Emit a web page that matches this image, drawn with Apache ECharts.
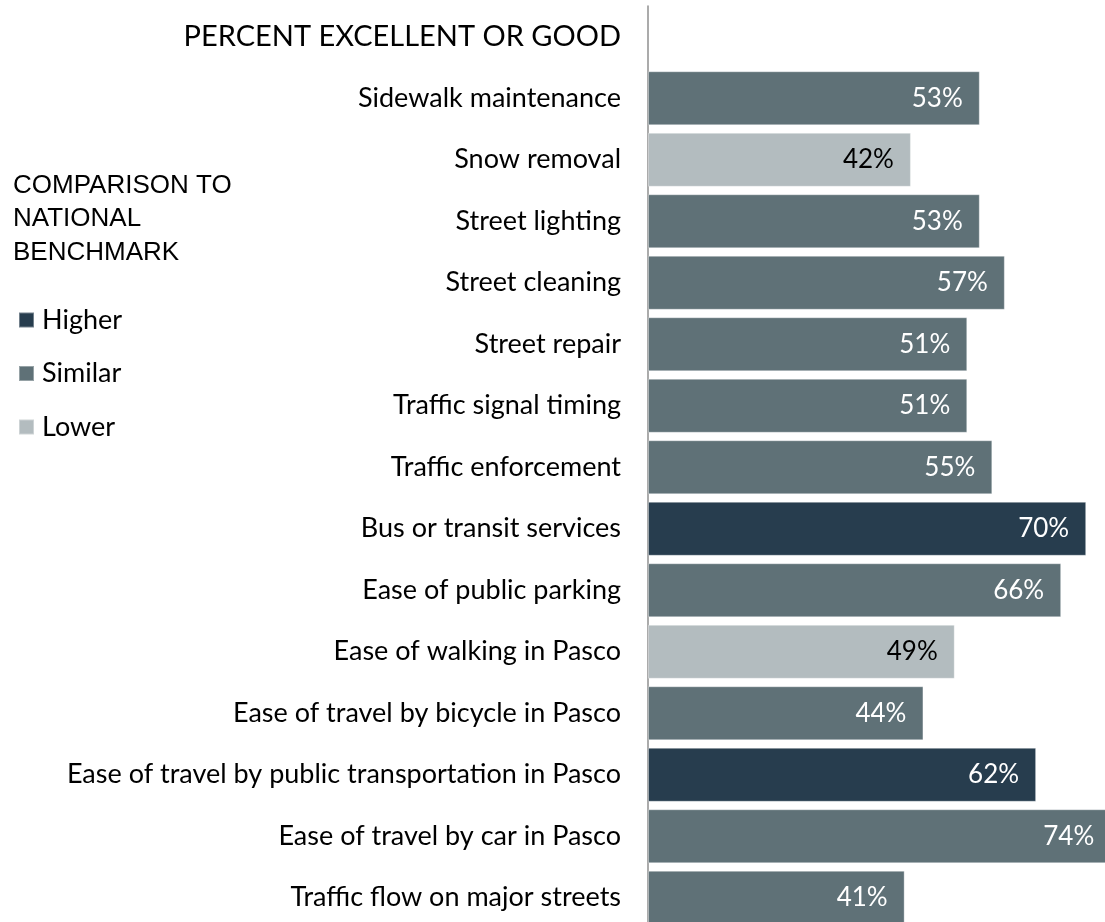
<!DOCTYPE html>
<html>
<head>
<meta charset="utf-8">
<script src="https://cdn.jsdelivr.net/npm/echarts@6/dist/echarts.min.js"></script>
<style>
  html, body { margin: 0; padding: 0; background: #fff; }
  #main { width: 1105px; height: 922px; }
</style>
</head>
<body>
<div id="main"></div>
<script>
// header row sits on the category axis as an empty band
const header = "PERCENT EXCELLENT OR GOOD";
const categories = [
  "Sidewalk maintenance",
  "Snow removal",
  "Street lighting",
  "Street cleaning",
  "Street repair",
  "Traffic signal timing",
  "Traffic enforcement",
  "Bus or transit services",
  "Ease of public parking",
  "Ease of walking in Pasco",
  "Ease of travel by bicycle in Pasco",
  "Ease of travel by public transportation in Pasco",
  "Ease of travel by car in Pasco",
  "Traffic flow on major streets"
];
const values = [53, 42, 53, 57, 51, 51, 55, 70, 66, 49, 44, 62, 74, 41];
const comparison = ["Similar", "Lower", "Similar", "Similar", "Similar", "Similar", "Similar",
  "Higher", "Similar", "Lower", "Similar", "Higher", "Similar", "Similar"];
const groups = ["Higher", "Similar", "Lower"];

const colors = { Higher: "#273d4e", Similar: "#5f7177", Lower: "#b3bcbf" };
const labelColors = { Higher: "#fff", Similar: "#fff", Lower: "#000" };
const FONT = "Lato";

// one series per comparison group, empty where the row belongs to another group
const series = groups.map(g => ({
  name: g,
  type: "bar",
  stack: "all",
  barWidth: 54,
  clip: false,
  data: ["-"].concat(values.map((v, i) => comparison[i] === g ? v : "-")),
  itemStyle: { color: colors[g], borderColor: "rgba(255,255,255,0.35)", borderWidth: 1 },
  label: {
    show: true,
    position: "insideRight",
    distance: 17,
    formatter: p => p.value + "%",
    color: labelColors[g],
    fontFamily: FONT,
    fontSize: 26
  }
}));

const option = {
  animation: false,
  title: {
    text: "COMPARISON TO\nNATIONAL\nBENCHMARK",
    left: 13,
    top: 169,
    padding: 0,
    textStyle: { fontFamily: "Liberation Sans", fontSize: 26, fontWeight: "normal", color: "#000", lineHeight: 33.5 }
  },
  legend: {
    data: groups,
    orient: "vertical",
    left: 18,
    top: 305,
    padding: 0,
    icon: "rect",
    itemWidth: 15,
    itemHeight: 15,
    itemGap: 23.5,
    textStyle: { fontFamily: FONT, fontSize: 27, color: "#000", lineHeight: 30, padding: [0, 0, 0, 3] }
  },
  grid: { left: 648, top: 6, width: 500.8, height: 922.5, outerBoundsMode: "none", containLabel: false },
  xAxis: { type: "value", min: 0, max: 80, show: false },
  yAxis: {
    type: "category",
    inverse: true,
    data: [header].concat(categories),
    axisLine: { show: true, lineStyle: { color: "#8f8f8f", width: 1.5 } },
    axisTick: { show: false },
    axisLabel: {
      margin: 27,
      color: "#000",
      fontFamily: FONT,
      fontSize: 27,
      formatter: v => v === header ? "{h|" + v + "}" : v,
      rich: { h: { fontFamily: FONT, fontSize: 29, color: "#000" } }
    }
  },
  series: series
};

let myChart = echarts.init(document.getElementById("main"));
myChart.setOption(option);
window.addEventListener("resize", () => { myChart.resize(); });
</script>
</body>
</html>
